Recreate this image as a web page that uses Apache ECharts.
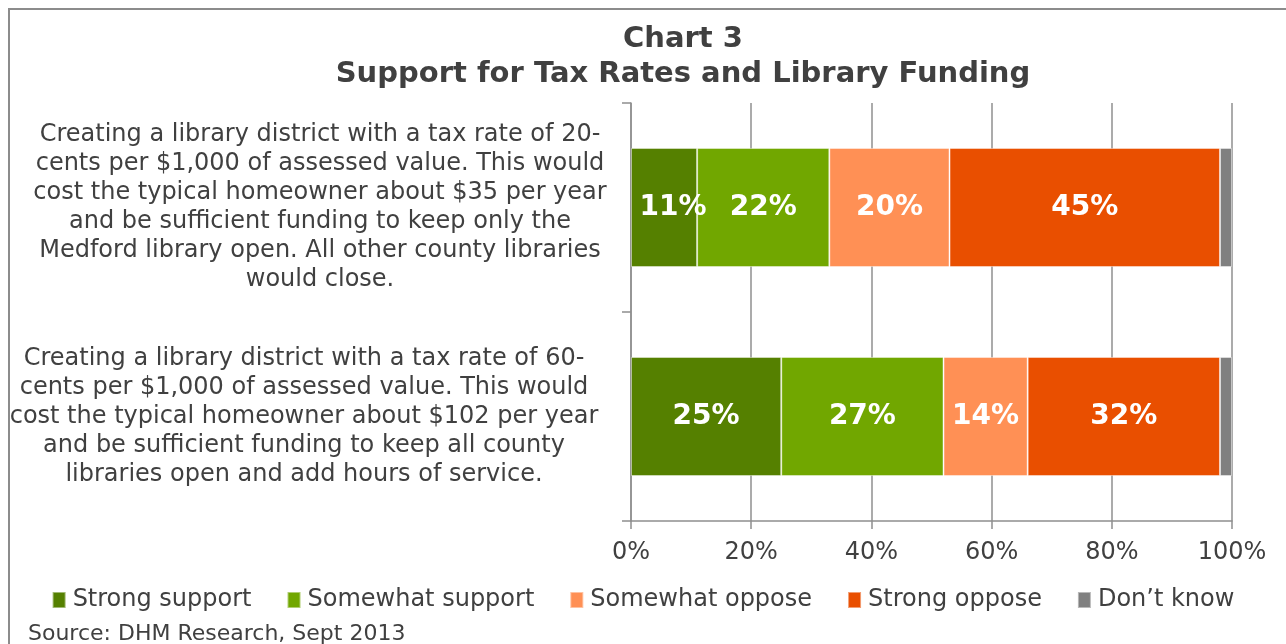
<!DOCTYPE html>
<html>
<head>
<meta charset="utf-8">
<script src="https://cdn.jsdelivr.net/npm/echarts@6/dist/echarts.min.js"></script>
<style>
  html, body { margin: 0; padding: 0; background: #fff; }
  #chart { width: 1286px; height: 644px; }
</style>
</head>
<body>
<div id="chart"></div>
<script>
// Survey questions (top to bottom)
const categories = [
  'Creating a library district with a tax rate of 20-\ncents per $1,000 of assessed value. This would\ncost the typical homeowner about $35 per year\nand be sufficient funding to keep only the\nMedford library open. All other county libraries\nwould close.',
  'Creating a library district with a tax rate of 60-\ncents per $1,000 of assessed value. This would\ncost the typical homeowner about $102 per year\nand be sufficient funding to keep all county\nlibraries open and add hours of service.'
];

// Response shares, percent, one value per question
const strongSupport   = [11, 25];
const somewhatSupport = [22, 27];
const somewhatOppose  = [20, 14];
const strongOppose    = [45, 32];
const dontKnow        = [2, 2];

const seriesNames = ['Strong support', 'Somewhat support', 'Somewhat oppose', 'Strong oppose', 'Don\u2019t know'];
const xTicks = [0, 20, 40, 60, 80, 100];

const FONT = '"DejaVu Sans", Verdana, sans-serif';
const TEXT = '#404040';
const GRID = '#8f8f8f';
const colors = ['#558000', '#71a700', '#ff9055', '#e94f00', '#808080'];

const values = [strongSupport, somewhatSupport, somewhatOppose, strongOppose, dontKnow];

const series = values.map((vals, i) => ({
  name: seriesNames[i],
  type: 'bar',
  stack: 'total',
  barWidth: '57%',
  data: vals.map((v, j) => {
    const item = { value: v };
    // nudge the narrow first segment's label a little to the right
    if (i === 0 && j === 0) item.label = { offset: [9, 0] };
    return item;
  }),
  itemStyle: { color: colors[i], borderColor: 'rgba(255,255,255,0.45)', borderWidth: 1 },
  label: {
    show: i < 4,
    position: 'inside',
    formatter: '{c}%',
    color: '#ffffff',
    fontFamily: FONT,
    fontWeight: 'bold',
    fontSize: 28
  },
  emphasis: { disabled: true }
}));

// each question is centred over its own text block; the second block sits a bit further left
function questionLabel(value, index) {
  const style = index === 1 ? 'b' : 'a';
  return value.split('\n').map(line => '{' + style + '|' + line + '}').join('\n');
}

const chart = echarts.init(document.getElementById('chart'), null, { renderer: 'canvas' });
chart.setOption({
  animation: false,
  backgroundColor: '#ffffff',
  title: {
    text: 'Chart 3\nSupport for Tax Rates and Library Funding',
    left: 678,
    top: 17,
    textAlign: 'center',
    textStyle: {
      fontFamily: FONT,
      fontWeight: 'bold',
      fontSize: 29,
      lineHeight: 35,
      color: TEXT
    }
  },
  grid: { left: 631, right: 54, top: 103, bottom: 123, containLabel: false, outerBoundsMode: 'none' },
  xAxis: {
    type: 'value',
    min: xTicks[0],
    max: xTicks[xTicks.length - 1],
    interval: 20,
    axisLine: { show: true, lineStyle: { color: GRID, width: 1.5 } },
    axisTick: { show: true, length: 8, lineStyle: { color: GRID, width: 1.5 } },
    splitLine: { show: true, lineStyle: { color: GRID, width: 1.5 } },
    axisLabel: {
      formatter: '{value}%',
      margin: 20,
      showMaxLabel: true,
      showMinLabel: true,
      hideOverlap: false,
      color: TEXT,
      fontFamily: FONT,
      fontSize: 24
    }
  },
  yAxis: {
    type: 'category',
    inverse: true,
    data: categories,
    axisLine: { show: true, lineStyle: { color: GRID, width: 1.5 } },
    axisTick: { show: true, length: 9, lineStyle: { color: GRID, width: 1.5 } },
    axisLabel: {
      align: 'center',
      margin: 311,
      formatter: questionLabel,
      color: TEXT,
      fontFamily: FONT,
      fontSize: 24,
      lineHeight: 29,
      rich: {
        a: { color: TEXT, fontFamily: FONT, fontSize: 24, lineHeight: 29 },
        b: { color: TEXT, fontFamily: FONT, fontSize: 24, lineHeight: 29, padding: [0, 32, 0, 0] }
      }
    }
  },
  legend: {
    data: seriesNames,
    left: 'center',
    top: 583,
    icon: 'rect',
    itemWidth: 13,
    itemHeight: 16,
    itemGap: 35,
    textStyle: { color: TEXT, fontFamily: FONT, fontSize: 24, padding: [0, 0, 0, 2] }
  },
  series: series,
  graphic: [
    {
      type: 'rect',
      silent: true,
      shape: { x: 9, y: 9, width: 1400, height: 800 },
      style: { fill: 'none', stroke: '#8c8c8c', lineWidth: 2 }
    },
    {
      type: 'text',
      left: 28,
      top: 623,
      style: {
        text: 'Source: DHM Research, Sept 2013',
        fill: TEXT,
        font: '22px "DejaVu Sans", Verdana, sans-serif'
      }
    }
  ]
});
</script>
</body>
</html>
